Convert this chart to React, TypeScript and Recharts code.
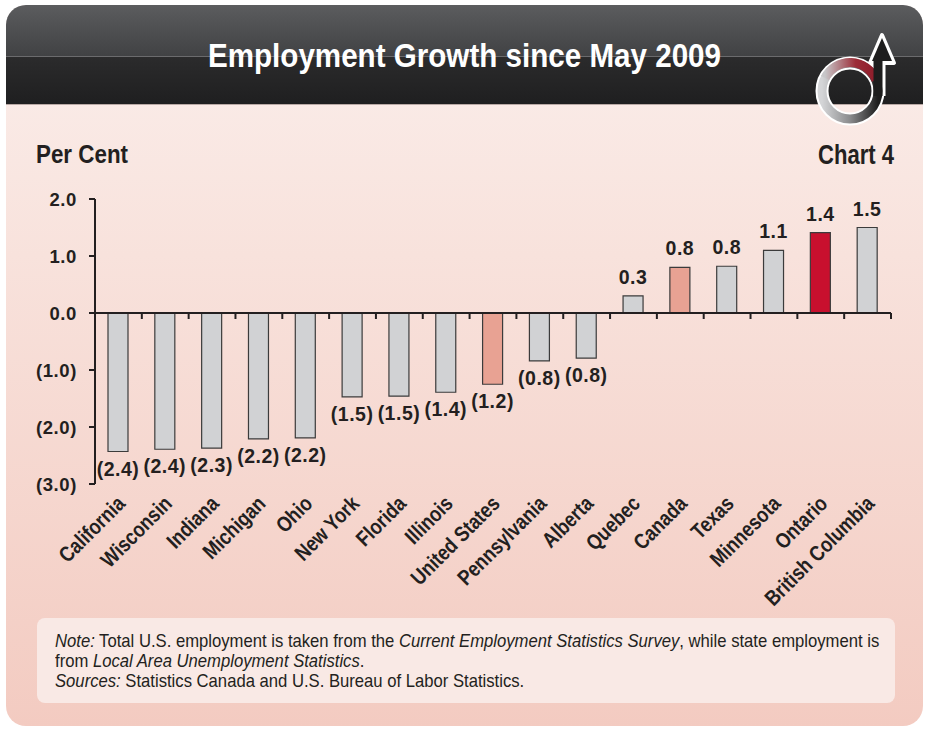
import React from "react";
import { BarChart, Bar, XAxis, YAxis, Cell, LabelList, ReferenceLine } from "recharts";

const categories = [
  "California", "Wisconsin", "Indiana", "Michigan", "Ohio", "New York", "Florida", "Illinois",
  "United States", "Pennsylvania", "Alberta", "Quebec", "Canada", "Texas", "Minnesota", "Ontario",
  "British Columbia",
];
const growth = [
  -2.43, -2.39, -2.37, -2.21, -2.19, -1.47, -1.46, -1.39, -1.25, -0.84, -0.79, 0.3, 0.8, 0.82,
  1.1, 1.41, 1.5,
];
const valueLabels = [
  "(2.4)", "(2.4)", "(2.3)", "(2.2)", "(2.2)", "(1.5)", "(1.5)", "(1.4)", "(1.2)", "(0.8)",
  "(0.8)", "0.3", "0.8", "0.8", "1.1", "1.4", "1.5",
];
const yTicks = [-3, -2, -1, 0, 1, 2];
const nationalTotals = ["United States", "Canada"];
const ontario = "Ontario";

const data = categories.map((name, i) => ({ name, value: growth[i], label: valueLabels[i] }));

const SANS = "'Liberation Sans', Arial, Helvetica, sans-serif";
const INK = "#231f20";

const barColor = (name: string) =>
  name === ontario ? "#c8102e" : nationalTotals.includes(name) ? "#e8a293" : "#d1d2d4";

const fmtY = (v: number) => (v < 0 ? `(${Math.abs(v).toFixed(1)})` : v.toFixed(1));

function ValueLabel(props: any) {
  const { x, y, width, height, value } = props;
  const top = Math.min(y, y + height);
  const bottom = Math.max(y, y + height);
  const neg = value.startsWith("(");
  return (
    <text
      x={x + width / 2}
      y={neg ? bottom + 17 : top - 19}
      textAnchor="middle"
      dominantBaseline="central"
      fontFamily={SANS}
      fontWeight="bold"
      fontSize={19.5}
      letterSpacing={0.5}
      fill={INK}
    >
      {value}
    </text>
  );
}

function YTick(props: any) {
  const { x, y, payload } = props;
  return (
    <text
      x={x}
      y={y}
      textAnchor="end"
      dominantBaseline="central"
      fontFamily={SANS}
      fontWeight="bold"
      fontSize={18.5}
      letterSpacing={0.6}
      fill={INK}
    >
      {fmtY(payload.value)}
    </text>
  );
}

function CatTick(props: any) {
  const { x, y, payload } = props;
  return (
    <g transform={`translate(${x + 8},${y + 13}) rotate(-45) scale(0.84,1)`}>
      <text textAnchor="end" fontFamily={SANS} fontWeight="bold" fontSize={21.5} fill={INK}>
        {payload.value}
      </text>
    </g>
  );
}

function ZeroAxis(props: any) {
  const { x1, y1, x2, y2 } = props;
  const n = categories.length;
  const step = (x2 - x1) / n;
  return (
    <g>
      <line x1={x1} y1={y1} x2={x2} y2={y2} stroke={INK} strokeWidth={2} />
      {categories.map((c, i) => (
        <line
          key={c}
          x1={x1 + step * (i + 1)}
          x2={x1 + step * (i + 1)}
          y1={y1}
          y2={y1 + 6}
          stroke={INK}
          strokeWidth={2}
        />
      ))}
    </g>
  );
}

function Overlay() {
  return (
    <svg width={925} height={731} style={{ position: "absolute", left: 0, top: 0 }}>
      <defs>
        <linearGradient id="ringG" x1="0" y1="0" x2="1" y2="0">
          <stop offset="0" stopColor="#d4d5d7" />
          <stop offset="0.5" stopColor="#8a8b8d" />
          <stop offset="1" stopColor="#1d1d1d" />
        </linearGradient>
        <linearGradient id="redG" x1="0" y1="0" x2="1" y2="0">
          <stop offset="0" stopColor="#c7c7c9" />
          <stop offset="0.6" stopColor="#9c2d38" />
          <stop offset="1" stopColor="#8e1c2a" />
        </linearGradient>
      </defs>
      <text
        x={464.5}
        y={67}
        textAnchor="middle"
        textLength={513}
        lengthAdjust="spacingAndGlyphs"
        fontFamily={SANS}
        fontWeight="bold"
        fontSize={33}
        fill="#fff"
      >
        Employment Growth since May 2009
      </text>
      <text x={36} y={163} textLength={92} lengthAdjust="spacingAndGlyphs" fontFamily={SANS} fontWeight="bold" fontSize={26.5} fill={INK}>
        Per Cent
      </text>
      <text
        x={894}
        y={164}
        textAnchor="end"
        textLength={76}
        lengthAdjust="spacingAndGlyphs"
        fontFamily={SANS}
        fontWeight="bold"
        fontSize={27}
        fill={INK}
      >
        Chart 4
      </text>
      <circle cx={850} cy={91} r={28} fill="none" stroke="#fff" strokeWidth={13} />
      <path d="M879,96 L879,62" stroke="#fff" strokeWidth={13} fill="none" />
      <polygon points="882,35 894,63 870,63" fill="#fff" stroke="#fff" strokeWidth={4} strokeLinejoin="round" />
      <circle cx={850} cy={91} r={28} fill="none" stroke="url(#ringG)" strokeWidth={9} />
      <path d="M825,78 A28,28 0 0 1 876,80" stroke="url(#redG)" strokeWidth={9} fill="none" />
      <path d="M878,96 L878,60" stroke="#1d1d1d" strokeWidth={9} fill="none" />
      <polygon points="882,38 892,61 872,61" fill="#1d1d1d" />
    </svg>
  );
}

export default function App() {
  return (
    <div style={{ position: "absolute", left: 0, top: 0, width: 925, height: 731, background: "#fff", overflow: "hidden" }}>
      <div
        style={{
          position: "absolute",
          left: 6,
          top: 5,
          width: 917,
          height: 721,
          borderRadius: 20,
          overflow: "hidden",
          background: "linear-gradient(to bottom, #fbefec 0px, #f8e2dc 250px, #f3cbc1 721px)",
        }}
      >
        <div
          style={{
            position: "absolute",
            left: 0,
            top: 0,
            width: 917,
            height: 99,
            background: "linear-gradient(to bottom, #5b5c5e 0px, #414244 51px, #2b2b2c 52px, #1f1f20 99px)",
          }}
        />
        <div style={{ position: "absolute", left: 0, top: 51, width: 917, height: 1, background: "#6b6b6d" }} />
        <div style={{ position: "absolute", left: 0, top: 99, width: 917, height: 1, background: "#b9a9a5" }} />
        <div
          style={{
            position: "absolute",
            left: 31,
            top: 613,
            width: 858,
            height: 85,
            borderRadius: 8,
            background: "#f9e9e5",
          }}
        />
        <div
          style={{
            position: "absolute",
            left: 49,
            top: 626,
            fontFamily: SANS,
            fontSize: 18.5,
            lineHeight: "20px",
            color: INK,
            whiteSpace: "nowrap",
            transform: "scaleX(0.9)",
            transformOrigin: "0 0",
          }}
        >
          <i>Note:</i> Total U.S. employment is taken from the <i>Current Employment Statistics Survey</i>, while state
          employment is
          <br />
          from <i>Local Area Unemployment Statistics</i>.
          <br />
          <i>Sources:</i> Statistics Canada and U.S. Bureau of Labor Statistics.
        </div>
      </div>
      <Overlay />
      <div style={{ position: "absolute", left: 0, top: 0 }}>
        <BarChart
          width={925}
          height={731}
          data={data}
          margin={{ top: 199, right: 34, left: 35, bottom: 217 }}
          barSize={20}
        >
          <YAxis
            domain={[-3, 2]}
            ticks={yTicks}
            width={60}
            interval={0}
            axisLine={{ stroke: INK, strokeWidth: 2 }}
            tickLine={{ stroke: INK, strokeWidth: 2 }}
            tickSize={6}
            tickMargin={12}
            tick={<YTick />}
          />
          <XAxis
            dataKey="name"
            interval={0}
            axisLine={false}
            tickLine={false}
            height={30}
            tick={<CatTick />}
          />
          <Bar dataKey="value" stroke="#3b3b3b" strokeWidth={1.2} isAnimationActive={false}>
            {data.map((d) => (
              <Cell key={d.name} fill={barColor(d.name)} />
            ))}
            <LabelList dataKey="label" content={<ValueLabel />} />
          </Bar>
          <ReferenceLine y={0} shape={<ZeroAxis />} />
        </BarChart>
      </div>
    </div>
  );
}
